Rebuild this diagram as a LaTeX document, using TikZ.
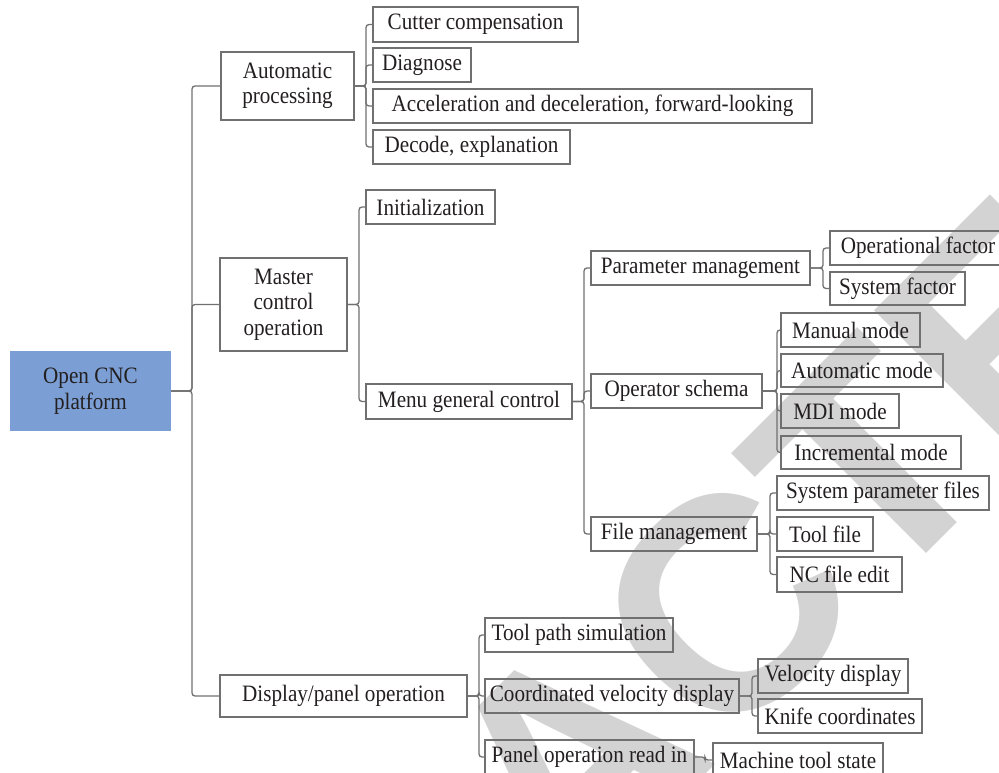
\documentclass[tikz,border=0pt]{standalone}
\usepackage{fontspec}
\setmainfont{Liberation Serif}[FakeStretch=0.9]
\newfontfamily\wmfont{Liberation Sans}
\definecolor{linegray}{RGB}{112,112,112}
\definecolor{ink}{RGB}{35,31,32}
\definecolor{rootblue}{RGB}{123,159,212}
\definecolor{wmgray}{RGB}{211,211,211}
\newcommand\boxfont{\fontsize{23.5}{25.5}\selectfont}
\tikzset{
  wh/.style 2 args={minimum width=#1pt, minimum height=#2pt},
  box/.style={draw=linegray, line width=1.3pt, inner sep=0pt, align=center, text=ink, font=\boxfont},
  rootbox/.style={fill=rootblue, inner sep=0pt, align=center, text=ink, font=\boxfont},
  conn/.style={draw=linegray, line width=1.3pt, rounded corners=3pt},
  stamp/.style={rotate=45, anchor=base west, inner sep=0pt, text=wmgray,
    font={\wmfont\bfseries\fontsize{303}{303}\selectfont}},
}
\begin{document}
\begin{tikzpicture}[x=1pt, y=-1pt]
\useasboundingbox (0,0) rectangle (999,773);
\clip (0,0) rectangle (999,773);

% diagonal stamp behind the chart
\node[stamp] (stamp) at (-16.5,1496.5) {RETRACTED};

% root
\node[rootbox, wh={161}{80}] (root) at (90.5,391) {Open CNC\\platform};

% first level
\node[box, wh={133}{68}] (ap) at (287.5,86) {Automatic\\processing};
\node[box, wh={127}{93}] (mc) at (283.5,304.5) {Master\\control\\operation};
\node[box, wh={247}{42}] (dp) at (343.5,696) {Display/panel operation};

% automatic processing
\node[box, wh={205}{35}] (cc) at (475.5,24.5) {Cutter compensation};
\node[box, wh={98}{34}]  (dg) at (422,65) {Diagnose};
\node[box, wh={439}{34}] (ac) at (592.5,106) {Acceleration and deceleration, forward-looking};
\node[box, wh={197}{34}] (de) at (471.5,147) {Decode, explanation};

% master control operation
\node[box, wh={129}{34}] (in) at (430.5,207) {Initialization};
\node[box, wh={206}{35}] (mg) at (469,401.5) {Menu general control};

% menu general control
\node[box, wh={219}{34}] (pm) at (700.5,268) {Parameter management};
\node[box, wh={171}{34}] (os) at (676.5,391) {Operator schema};
\node[box, wh={166}{34}] (fm) at (674,534) {File management};

% parameter management
\node[box, wh={176}{34}] (of) at (918,248) {Operational factor};
\node[box, wh={135}{33}] (sf) at (897.5,288.5) {System factor};

% operator schema
\node[box, wh={139}{34}] (mm) at (850.5,330) {Manual mode};
\node[box, wh={162}{33}] (am) at (862,370.5) {Automatic mode};
\node[box, wh={118}{34}] (md) at (840,411) {MDI mode};
\node[box, wh={180}{33}] (im) at (871,452.5) {Incremental mode};

% file management
\node[box, wh={212}{34}] (sp) at (883,493) {System parameter files};
\node[box, wh={96}{34}]  (tf) at (825,534) {Tool file};
\node[box, wh={125}{35}] (nc) at (839.5,574.5) {NC file edit};

% display/panel operation
\node[box, wh={188}{34}] (tp) at (579,635) {Tool path simulation};
\node[box, wh={254}{34}] (cv) at (612,696) {Coordinated velocity display};
\node[box, wh={209}{34}] (pr) at (589.5,757) {Panel operation read in};

\node[box, wh={150}{34}] (vd) at (833,676) {Velocity display};
\node[box, wh={164}{34}] (kc) at (840,716) {Knife coordinates};
\node[box, wh={170}{34}] (ms) at (798,760) {Machine tool state};

% bus positions
\coordinate (b1) at (192,0);
\coordinate (b2) at (366,0);
\coordinate (b3) at (359,0);
\coordinate (b4) at (584,0);
\coordinate (b5) at (823,0);
\coordinate (b6) at (777,0);
\coordinate (b7) at (770,0);
\coordinate (b8) at (479,0);
\coordinate (b9) at (752,0);
\coordinate (b10) at (705,0);

% elbow connectors
\foreach \p/\b/\c in {root/b1/ap, root/b1/mc, root/b1/dp,
    ap/b2/cc, ap/b2/dg, ap/b2/ac, ap/b2/de,
    mc/b3/in, mc/b3/mg,
    mg/b4/pm, mg/b4/os, mg/b4/fm,
    pm/b5/of, pm/b5/sf,
    os/b6/mm, os/b6/am, os/b6/md, os/b6/im,
    fm/b7/sp, fm/b7/tf, fm/b7/nc,
    dp/b8/tp, dp/b8/cv, dp/b8/pr,
    cv/b9/vd, cv/b9/kc,
    pr/b10/ms}
  \draw[conn] (\p.east) -- (\p.east -| \b) |- (\c.west);
\end{tikzpicture}
\end{document}
